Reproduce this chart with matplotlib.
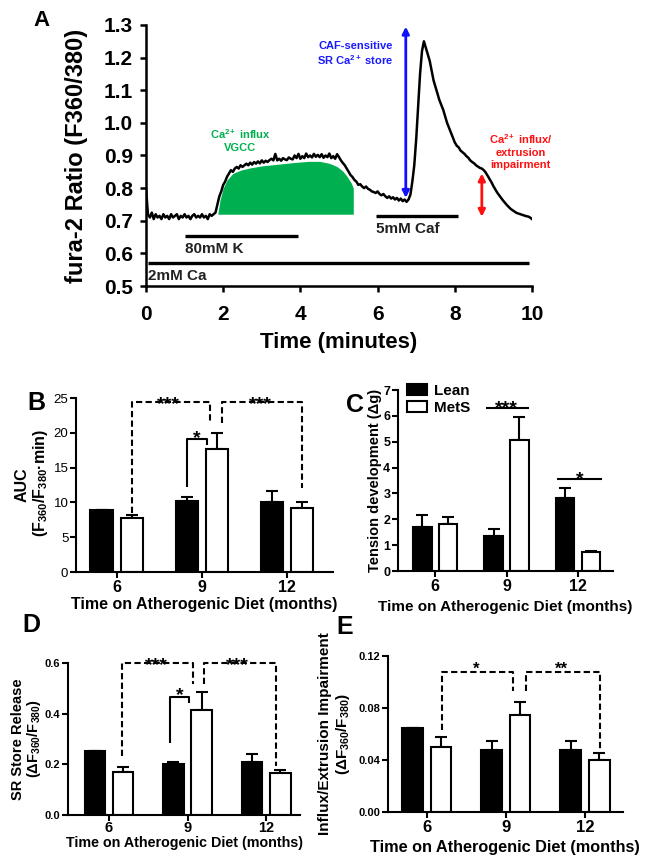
import numpy as np
import matplotlib
matplotlib.use('Agg')
import matplotlib.pyplot as plt
from matplotlib import font_manager
from matplotlib.patches import Patch
from matplotlib.transforms import offset_copy

names = {f.name for f in font_manager.fontManager.ttflist}
SANS = 'Liberation Sans'
HAS_NARROW = 'Liberation Sans Narrow' in names
NARROW = 'Liberation Sans Narrow' if HAS_NARROW else SANS

plt.rcParams['font.family'] = [SANS, 'DejaVu Sans']
plt.rcParams['mathtext.fontset'] = 'custom'
plt.rcParams['mathtext.rm'] = SANS
plt.rcParams['mathtext.bf'] = SANS + ':bold'
plt.rcParams['mathtext.it'] = SANS + ':italic'
plt.rcParams['mathtext.default'] = 'bf'

# ---------------- data ----------------
# Panel A: fura-2 trace sampled every 0.05 min from 0 to 10 min
trace_time = np.round(np.arange(201) * 0.05, 2)
trace_ratio = [
    0.80, 0.72, 0.71, 0.725, 0.705, 0.72, 0.71, 0.715, 0.705, 0.72,
    0.71, 0.715, 0.705, 0.72, 0.71, 0.715, 0.72, 0.705, 0.715, 0.71,
    0.72, 0.71, 0.715, 0.705, 0.715, 0.72, 0.71, 0.715, 0.71, 0.72,
    0.71, 0.715, 0.705, 0.72, 0.715, 0.72, 0.725, 0.75, 0.775, 0.79,
    0.81, 0.82, 0.835, 0.845, 0.855, 0.85, 0.86, 0.865, 0.86, 0.87,
    0.865, 0.87, 0.875, 0.87, 0.878, 0.872, 0.88, 0.875, 0.882, 0.876,
    0.885, 0.878, 0.884, 0.88, 0.886, 0.89, 0.885, 0.905, 0.885, 0.89,
    0.884, 0.892, 0.888, 0.886, 0.894, 0.89, 0.888, 0.90, 0.892, 0.905,
    0.89, 0.898, 0.892, 0.906, 0.895, 0.90, 0.894, 0.905, 0.896, 0.902,
    0.895, 0.904, 0.893, 0.90, 0.895, 0.906, 0.892, 0.898, 0.89, 0.904,
    0.895, 0.885, 0.877, 0.87, 0.86, 0.85, 0.84, 0.834, 0.825, 0.82,
    0.81, 0.812, 0.805, 0.80, 0.805, 0.798, 0.795, 0.79, 0.788, 0.785,
    0.79, 0.782, 0.778, 0.782, 0.775, 0.77, 0.775, 0.768, 0.772, 0.765,
    0.77, 0.762, 0.768, 0.76, 0.765, 0.758, 0.765, 0.78, 0.82, 0.87,
    0.95, 1.05, 1.15, 1.22, 1.25, 1.23, 1.21, 1.19, 1.16, 1.13,
    1.11, 1.09, 1.07, 1.055, 1.04, 1.02, 1.00, 0.985, 0.97, 0.955,
    0.94, 0.93, 0.925, 0.915, 0.91, 0.905, 0.898, 0.893, 0.885, 0.88,
    0.876, 0.87, 0.866, 0.862, 0.86, 0.855, 0.848, 0.838, 0.828, 0.818,
    0.806, 0.796, 0.786, 0.778, 0.77, 0.762, 0.755, 0.748, 0.742, 0.736,
    0.732, 0.728, 0.724, 0.722, 0.72, 0.718, 0.716, 0.714, 0.713, 0.71,
    0.705,
]
# green area (Ca2+ influx via VGCC)
green_time = [1.86, 1.92, 2.00, 2.10, 2.25, 2.45, 2.70, 3.00, 3.40, 3.80,
              4.20, 4.50, 4.75, 4.95, 5.10, 5.22, 5.32, 5.37, 5.37]
green_top = [0.72, 0.765, 0.80, 0.825, 0.845, 0.855, 0.862, 0.868, 0.873, 0.878,
             0.882, 0.882, 0.876, 0.866, 0.852, 0.834, 0.815, 0.80, 0.72]
green_base = 0.72
# protocol bars
proto_labels = ['80mM K', '2mM Ca', '5mM Caf']
proto_start = [1.0, 0.05, 5.97]
proto_end = [3.95, 9.92, 8.08]
proto_level = [0.653, 0.57, 0.715]
# arrows
caf_arrow = (6.73, 0.77, 1.295)
imp_arrow = (8.70, 0.712, 0.845)

months = ['6', '9', '12']
groups = ['Lean', 'MetS']
# Panel B: AUC
auc_lean = [8.9, 10.2, 10.1]
auc_lean_err = [0.0, 0.6, 1.5]
auc_mets = [7.75, 17.7, 9.2]
auc_mets_err = [0.45, 2.3, 0.9]
# Panel C: tension
ten_lean = [1.71, 1.37, 2.84]
ten_lean_err = [0.44, 0.27, 0.36]
ten_mets = [1.82, 5.06, 0.72]
ten_mets_err = [0.25, 0.91, 0.07]
# Panel D: SR store release
sr_lean = [0.253, 0.200, 0.211]
sr_lean_err = [0.0, 0.011, 0.028]
sr_mets = [0.171, 0.415, 0.165]
sr_mets_err = [0.02, 0.069, 0.013]
# Panel E: influx/extrusion impairment
imp_lean = [0.065, 0.0477, 0.0477]
imp_lean_err = [0.0, 0.0069, 0.0069]
imp_mets = [0.0503, 0.075, 0.040]
imp_mets_err = [0.0077, 0.0095, 0.0057]

# ---------------- figure ----------------
W, H = 654, 863
fig = plt.figure(figsize=(W / 100, H / 100), dpi=100)


def px_axes(x0, y0, x1, y1):
    return fig.add_axes([x0 / W, 1 - y1 / H, (x1 - x0) / W, (y1 - y0) / H])


def ftext(x, y, s, **kw):
    kw.setdefault('ha', 'center')
    kw.setdefault('va', 'center')
    kw.setdefault('fontweight', 'bold')
    return fig.text(x / W, 1 - y / H, s, **kw)


def style_axes(ax, lw=1.5, tl=4):
    for s in ('top', 'right'):
        ax.spines[s].set_visible(False)
    for s in ('left', 'bottom'):
        ax.spines[s].set_linewidth(lw)
    ax.tick_params(direction='out', length=tl, width=lw)


# ---------- Panel A ----------
axA = px_axes(146, 25, 532, 286)
style_axes(axA, lw=1.8, tl=4.5)
axA.set_xlim(0, 10)
axA.set_ylim(0.5, 1.3)
axA.set_xticks([0, 2, 4, 6, 8, 10])
axA.set_yticks(np.round(np.arange(0.5, 1.31, 0.1), 1))
axA.yaxis.set_major_formatter(matplotlib.ticker.FormatStrFormatter('%.1f'))
axA.tick_params(axis='y', labelsize=15, pad=5)
axA.tick_params(axis='x', labelsize=15, pad=9)
for lab in axA.get_xticklabels() + axA.get_yticklabels():
    lab.set_fontweight('bold')
axA.fill_between(green_time, green_base, green_top, color='#00B050', lw=0, zorder=2)
axA.plot(trace_time, trace_ratio, color='black', lw=1.8, zorder=3)
axA.hlines(proto_level, proto_start, proto_end, color='black', lw=2.4, zorder=3)
for lab, x0, lev in zip(proto_labels, proto_start, proto_level):
    axA.text(x0, lev - 0.04, lab, ha='left', va='center', fontsize=11,
             fontweight='bold', color='#222222')
axA.annotate('', xy=(caf_arrow[0], caf_arrow[2]), xytext=(caf_arrow[0], caf_arrow[1]),
             arrowprops=dict(arrowstyle='<|-|>', color='#1010FF', lw=2,
                             mutation_scale=10, shrinkA=0, shrinkB=0), annotation_clip=False)
axA.annotate('', xy=(imp_arrow[0], imp_arrow[2]), xytext=(imp_arrow[0], imp_arrow[1]),
             arrowprops=dict(arrowstyle='<|-|>', color='#FF1010', lw=2,
                             mutation_scale=10, shrinkA=0, shrinkB=0), annotation_clip=False)
ann_size = 8.5 if HAS_NARROW else 8
axA.text(5.43, 1.21, 'CAF-sensitive\nSR Ca$^{2+}$ store', ha='center', va='center',
         color='#1a1aff', fontsize=ann_size,
         fontweight='bold', linespacing=1.2, family=[NARROW, 'DejaVu Sans'])
axA.text(2.44, 0.947, 'Ca$^{2+}$ influx\nVGCC', ha='center', va='center',
         color='#00B050', fontsize=ann_size,
         fontweight='bold', linespacing=1.25, family=[NARROW, 'DejaVu Sans'])
axA.text(9.71, 0.915, 'Ca$^{2+}$ influx/\nextrusion\nimpairment', ha='center', va='center',
         color='#FF1010', fontsize=ann_size,
         fontweight='bold', linespacing=1.25, family=[NARROW, 'DejaVu Sans'], clip_on=False)
ftext(76, 155.5, 'fura-2 Ratio (F360/380)', rotation=90, fontsize=17)
ftext(339, 342, 'Time (minutes)', fontsize=16)
ftext(42, 20, 'A', fontsize=16)

# ---------- bar helper ----------
OFF, BW = 0.18, 0.26
LW = 1.5
DASH = (0, (3, 1.6))


def bar_panel(ax, lean, lean_err, mets, mets_err, ylim, yticks, yfmt,
              xlim, ytick_size, ytick_bold, xtick_size, xtick_family=None, xpad=1.5):
    x = np.arange(len(months))
    style_axes(ax, lw=LW, tl=4)
    ax.bar(x - OFF, lean, BW, color='black', edgecolor='black', lw=LW, zorder=2)
    ax.bar(x + OFF, mets, BW, color='white', edgecolor='black', lw=LW, zorder=2)
    ax.errorbar(x - OFF, lean, yerr=[np.zeros(3), lean_err], fmt='none', ecolor='black',
                elinewidth=LW, capsize=4, capthick=LW, zorder=1)
    ax.errorbar(x + OFF, mets, yerr=[np.zeros(3), mets_err], fmt='none', ecolor='black',
                elinewidth=LW, capsize=4, capthick=LW, zorder=1)
    ax.set_ylim(*ylim)
    ax.set_xlim(*xlim)
    ax.set_yticks(yticks)
    ax.yaxis.set_major_formatter(matplotlib.ticker.FormatStrFormatter(yfmt))
    ax.set_xticks(x)
    ax.set_xticklabels(months)
    ax.tick_params(axis='y', labelsize=ytick_size, pad=1.5)
    ax.tick_params(axis='x', labelsize=xtick_size, pad=xpad)
    for lab in ax.get_yticklabels():
        lab.set_fontweight('bold' if ytick_bold else 'normal')
    for lab in ax.get_xticklabels():
        lab.set_fontweight('bold')
        if xtick_family:
            lab.set_family(xtick_family)
    return x


def stars(ax, x, y, s, size):
    tr = offset_copy(ax.transData, fig=fig, x=0, y=-0.58 * size, units='points')
    ax.text(x, y, s, transform=tr, ha='center', va='baseline', fontsize=size,
            fontweight='bold', clip_on=False, zorder=5)


def path(ax, xs, ys, dashed=True):
    ax.plot(xs, ys, color='black', lw=LW, ls=DASH if dashed else '-', clip_on=False,
            zorder=4, solid_capstyle='butt', dash_capstyle='butt')


# ---------- Panel B ----------
axB = px_axes(76, 398, 333, 572)
x = bar_panel(axB, auc_lean, auc_lean_err, auc_mets, auc_mets_err, (0, 25),
              [0, 5, 10, 15, 20, 25], '%d', (-0.48, 2.54), 9.5, False, 11.5)
path(axB, [x[0] + OFF, x[0] + OFF, x[1] + OFF - 0.09, x[1] + OFF - 0.09], [8.5, 24.4, 24.4, 21.4])
path(axB, [x[1] + OFF + 0.06, x[1] + OFF + 0.06, x[2] + OFF, x[2] + OFF], [21.4, 24.4, 24.4, 12.1])
stars(axB, 0.60, 25.0, '***', 14)
stars(axB, 1.69, 25.0, '***', 14)
path(axB, [x[1] - OFF, x[1] - OFF, x[1] + OFF - 0.12, x[1] + OFF - 0.12], [12.2, 19.1, 19.1, 18.2], dashed=False)
stars(axB, 0.94, 20.2, '*', 14)
ftext(22, 485, 'AUC', rotation=90, fontsize=11.5)
ftext(41, 483, '(F$_{360}$/F$_{380}$·min)', rotation=90, fontsize=11.5)
ftext(204, 604, 'Time on Atherogenic Diet (months)', fontsize=11.5)
ftext(36, 403, 'B', fontsize=18)

# ---------- Panel C ----------
axC = px_axes(398, 390, 613, 571)
x = bar_panel(axC, ten_lean, ten_lean_err, ten_mets, ten_mets_err, (0, 7),
              list(range(8)), '%d', (-0.52, 2.49), 9, True, 11.5)
axC.hlines(6.29, x[1] - 0.29, x[1] + 0.31, color='black', lw=LW)
stars(axC, x[1], 6.55, '***', 14)
axC.hlines(3.54, x[2] - 0.29, x[2] + 0.34, color='black', lw=LW)
stars(axC, x[2] + 0.02, 3.80, '*', 14)
axC.legend(handles=[Patch(facecolor='black', edgecolor='black', lw=LW, label=groups[0]),
                    Patch(facecolor='white', edgecolor='black', lw=LW, label=groups[1])],
           loc='upper left', bbox_to_anchor=(0.04, 1.035), frameon=False,
           prop={'weight': 'bold', 'size': 11}, handlelength=1.35, handleheight=0.7,
           handletextpad=0.45, labelspacing=0.2, borderpad=0, borderaxespad=0)
ftext(375, 480, 'Tension development (Δg)', rotation=90, fontsize=10.5)
ftext(505, 607, 'Time on Atherogenic Diet (months)', fontsize=11)
ftext(355, 405, 'C', fontsize=18)

# ---------- Panel D ----------
axD = px_axes(68, 663, 300, 815)
x = bar_panel(axD, sr_lean, sr_lean_err, sr_mets, sr_mets_err, (0, 0.6),
              [0, 0.2, 0.4, 0.6], '%.1f', (-0.52, 2.43), 8, True,
              12 if HAS_NARROW else 10.5, [NARROW, 'DejaVu Sans'], xpad=0.5)
path(axD, [x[0] + OFF - 0.01, x[0] + OFF - 0.01, x[1] + OFF - 0.11, x[1] + OFF - 0.11], [0.231, 0.6, 0.6, 0.517])
path(axD, [x[1] + OFF + 0.03, x[1] + OFF + 0.03, x[2] + OFF - 0.05, x[2] + OFF - 0.05], [0.517, 0.6, 0.6, 0.194])
stars(axD, 0.61, 0.616, '***', 14)
stars(axD, 1.64, 0.616, '***', 14)
path(axD, [x[1] - OFF - 0.04, x[1] - OFF - 0.04, x[1] + OFF - 0.16, x[1] + OFF - 0.16], [0.284, 0.464, 0.464, 0.442], dashed=False)
stars(axD, 0.90, 0.498, '*', 14)
ftext(18, 739, 'SR Store Release', rotation=90, fontsize=10.5)
ftext(34, 739, '(ΔF$_{360}$/F$_{380}$)', rotation=90, fontsize=10.5)
ftext(184, 843, 'Time on Atherogenic Diet (months)',
      fontsize=12.5 if HAS_NARROW else 10.3, family=[NARROW, 'DejaVu Sans'])
ftext(31, 625, 'D', fontsize=18)

# ---------- Panel E ----------
axE = px_axes(388, 656, 623, 812)
x = bar_panel(axE, imp_lean, imp_lean_err, imp_mets, imp_mets_err, (0, 0.12),
              [0, 0.04, 0.08, 0.12], '%.2f', (-0.49, 2.48), 8, True, 12)
path(axE, [x[0] + OFF + 0.01, x[0] + OFF + 0.01, x[1] + OFF - 0.09, x[1] + OFF - 0.09], [0.063, 0.108, 0.108, 0.093])
path(axE, [x[1] + OFF + 0.07, x[1] + OFF + 0.07, x[2] + OFF + 0.01, x[2] + OFF + 0.01], [0.093, 0.108, 0.108, 0.048])
stars(axE, 0.62, 0.1135, '*', 12)
stars(axE, 1.70, 0.1135, '**', 12)
ftext(325, 734, 'Influx/Extrusion Impairment', rotation=90, fontsize=11)
ftext(343, 734, '(ΔF$_{360}$/F$_{380}$)', rotation=90, fontsize=11)
ftext(505, 847, 'Time on Atherogenic Diet (months)', fontsize=11.7)
ftext(345, 627, 'E', fontsize=18)

fig.savefig('out.png', dpi=100)
